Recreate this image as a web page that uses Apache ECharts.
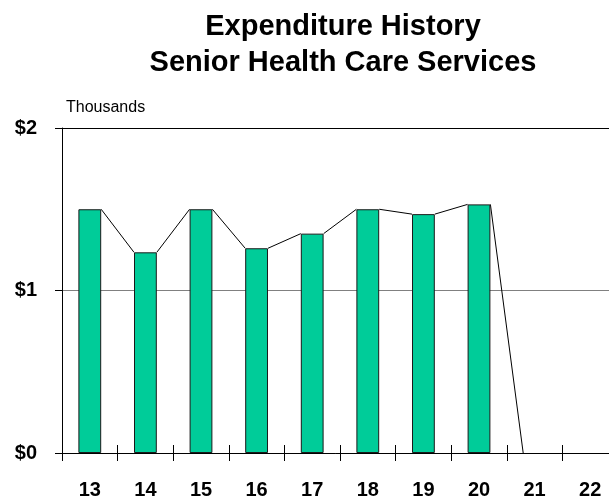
<!DOCTYPE html>
<html>
<head>
<meta charset="utf-8">
<script src="https://cdn.jsdelivr.net/npm/echarts@6/dist/echarts.min.js"></script>
<style>html,body{margin:0;padding:0;background:#fff}#c{width:609px;height:500px}</style>
</head>
<body>
<div id="c"></div>
<script>
var categories = ['13','14','15','16','17','18','19','20','21','22'];
var values = [1.50, 1.235, 1.50, 1.26, 1.35, 1.50, 1.47, 1.53, 0, null];
var yTickLabels = ['$0','$1','$2'];
var titleLines = ['Expenditure History','Senior Health Care Services'];
var unitLabel = 'Thousands';

// series-line segments: from each bar's top-right corner to next bar's top-left corner
var segs = [];
for (var i = 0; i < values.length - 1; i++) {
  if (values[i] != null && values[i+1] != null) segs.push([i, values[i], values[i+1]]);
}
var barData = values.map(function (v) {
  return v === 0 ? {value: v, itemStyle: {borderWidth: 0, opacity: 0}} : v;
});
var FONT = '"Liberation Sans", Arial, sans-serif';
var BARFRAC = 0.41;
var chart = echarts.init(document.getElementById('c'), null, {renderer:'canvas'});
chart.setOption({
  animation: false,
  title: {
    text: titleLines.join('\n'),
    left: 338, top: 4, textAlign: 'center',
    textStyle: {fontFamily: FONT, fontWeight: 'bold', fontSize: 29, lineHeight: 36, color: '#000'}
  },
  graphic: [{
    type: 'text', left: 66, top: 100,
    style: {text: unitLabel, font: '16px ' + FONT, fill: '#000'}
  }],
  grid: {left: 62, top: 128, width: 556, height: 325, outerBoundsMode: 'none', containLabel: false},
  xAxis: [{
    type: 'category', data: categories, position: 'bottom',
    axisLine: {lineStyle: {color: '#000', width: 1}},
    axisTick: {show: true, length: 8, lineStyle: {color: '#000'}},
    axisLabel: {margin: 27, fontFamily: FONT, fontWeight: 'bold', fontSize: 20, color: '#000'},
    splitLine: {show: false}
  }, {
    type: 'category', data: categories, position: 'bottom', gridIndex: 0,
    axisLine: {show: false},
    axisTick: {show: true, inside: true, length: 8, lineStyle: {color: '#000'}},
    axisLabel: {show: false},
    splitLine: {show: false}
  }],
  yAxis: {
    type: 'value', min: 0, max: 2, interval: 1,
    axisLine: {show: true, lineStyle: {color: '#000'}},
    axisTick: {show: true, length: 7, lineStyle: {color: '#000'}},
    axisLabel: {margin: 25, fontFamily: FONT, fontWeight: 'bold', fontSize: 20, color: '#000',
      formatter: function (v) { return yTickLabels[Math.round(v)]; }},
    splitLine: {show: true, lineStyle: {color: ['#808080', '#808080', '#000'], width: 1}}
  },
  series: [{
    type: 'custom',
    xAxisIndex: 0,
    data: segs,
    z: 1,
    renderItem: function (params, api) {
      var i = api.value(0);
      var p1 = api.coord([i, api.value(1)]);
      var p2 = api.coord([i + 1, api.value(2)]);
      var band = api.size([1, 0])[0];
      var hw = band * BARFRAC / 2;
      return {
        type: 'line',
        shape: {x1: p1[0] + hw, y1: p1[1], x2: p2[0] - hw, y2: p2[1]},
        style: {stroke: '#000', lineWidth: 1}
      };
    }
  }, {
    type: 'bar',
    xAxisIndex: 0,
    data: barData,
    barWidth: (BARFRAC * 100) + '%',
    z: 2,
    itemStyle: {color: '#00CC99', borderColor: '#1a1a1a', borderWidth: 1}
  }]
});
</script>
</body>
</html>
